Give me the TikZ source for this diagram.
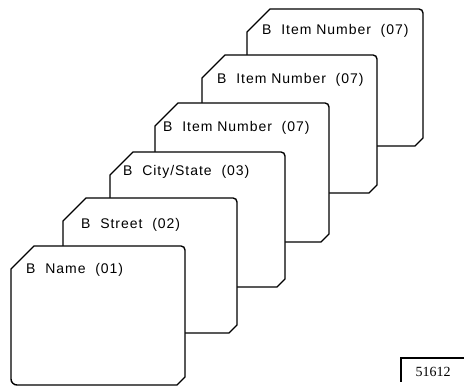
\documentclass[tikz,border=0pt]{standalone}
\usepackage{fontspec}
\newfontfamily\cardfont[LetterSpace=7]{Liberation Sans}
\newfontfamily\numfont{Liberation Serif}
\newcommand\drawcard[4]{%
  \path[cardst] (#1,{387-#2-23}) -- ({#1+23},{387-#2}) -- ({#3-4},{387-#2})
    arc[start angle=90,end angle=0,radius=4] -- (#3,{387-#4+8}) -- ({#3-8},{387-#4})
    -- ({#1+6},{387-#4}) arc[start angle=270,end angle=180,radius=6] -- cycle;}
\begin{document}
\begin{tikzpicture}[x=1pt,y=1pt,
  cardst/.style={draw=black,fill=white,line width=1.4pt,line join=round},
  cardtext/.style={anchor=base west,inner sep=0pt,font=\cardfont\fontsize{14}{16}\selectfont},
  tagline/.style={draw=black,line width=1.6pt}]
\useasboundingbox (0,0) rectangle (464,387);
\drawcard{247}{9}{423}{146}
\node[cardtext] (t6) at (262,{387-35}) {B\ \ Item Number\ \ (07)};
\drawcard{202}{55}{377}{193}
\node[cardtext] (t5) at (217,{387-84}) {B\ \ Item Number\ \ (07)};
\drawcard{155}{103}{329}{242}
\node[cardtext] (t4) at (163,{387-131.5}) {B\ \ Item Number\ \ (07)};
\drawcard{110}{152}{285}{287}
\node[cardtext] (t3) at (123,{387-176}) {B\ \ City/State\ \ (03)};
\drawcard{63}{198}{237}{333}
\node[cardtext] (t2) at (81,{387-229}) {B\ \ Street\ \ (02)};
\drawcard{11}{246}{185}{385}
\node[cardtext] (t1) at (26,{387-274}) {B\ \ Name\ \ (01)};
% figure tag
\coordinate (tagA) at (401,{387-382});
\coordinate (tagB) at (401,{387-358});
\coordinate (tagC) at (464,{387-358});
\draw[tagline] (tagA) -- (tagB) -- (tagC);
\node[anchor=base west,inner sep=0pt,font=\numfont\fontsize{14}{16}\selectfont] (tag) at (415.5,{387-377}) {51612};
\end{tikzpicture}
\end{document}
